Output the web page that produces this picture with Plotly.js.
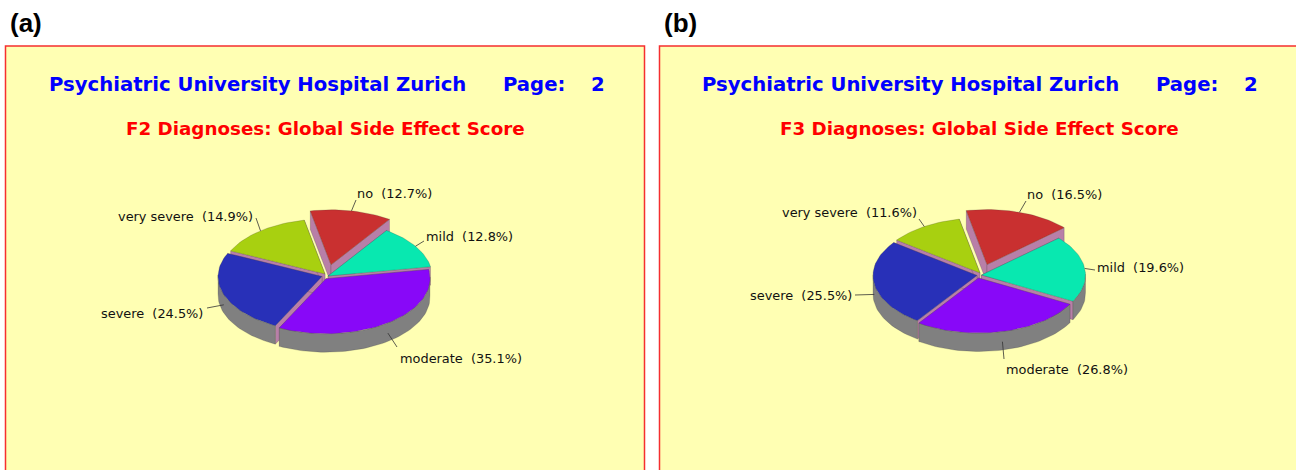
<!DOCTYPE html>
<html><head><meta charset="utf-8">
<script src="https://cdn.plot.ly/plotly-3.0.1.min.js"></script>
<style>html,body{margin:0;padding:0;background:#fff}#chart{width:1296px;height:470px}</style>
</head><body><div id="chart"></div>
<script>
const categories = ['no','mild','moderate','severe','very severe'];
const percentA = [12.7,12.8,35.1,24.5,14.9];
const percentB = [16.5,19.6,26.8,25.5,11.6];
const sliceColors = ['#C93030','#08E8B0','#8808F8','#2830B8','#A8D010'];
const paintOrder = [4,0,1,3,2];
const headerA = 'F2 Diagnoses: Global Side Effect Score';
const headerB = 'F3 Diagnoses: Global Side Effect Score';
const hospital = 'Psychiatric University Hospital Zurich';
const pageLabel = 'Page:';
const pageNumber = '2';

// per-slice tip of each wedge (the exploded layout of the source chart)
const tipsA = [[331,264.8],[328,276],[326,278.7],[322,276.5],[325,274]];
const tipsB = [[987,264.5],[981.5,275],[978.5,278],[977,275.5],[980,273]];
// label placement: x, y, anchor, leader end
const labelsA = [[356,193,'left',[356,200]],[425,236,'left',[424,241]],[398.5,358,'left',[397,347]],[204,313,'right',[207,308]],[254,216,'right',[256,218]]];
const labelsB = [[1026,194,'left',[1026,201]],[1096,267,'left',[1095,270]],[1004.5,369,'left',[1004,359]],[853,295,'right',[855,295]],[918,212,'right',[919,219]]];

const RX = 104, RY = 55, DEPTH = 18.5, START = 101.5;
const CUT = '#B87FA8', RIM = '#808080', EDGE = 'rgba(50,50,50,0.4)';
const traces = [];

function poly(xs, ys, fill){
  traces.push({type:'scatter',mode:'lines',x:xs,y:ys,fill:'toself',fillcolor:fill,
    line:{color:EDGE,width:0.5},hoverinfo:'skip',showlegend:false});
}
function drawPie(values, tips, labels){
  const total = values.reduce((s,v)=>s+v,0);
  const spans = []; let a = START;
  values.forEach(v=>{const e=a-v/total*360; spans.push([a,e]); a=e;});
  paintOrder.forEach(i=>{
    const [a0,a1]=spans[i], [tx,ty]=tips[i];
    const ax=[], ay=[], rx=[], ry=[];
    const n=Math.max(8,Math.ceil(Math.abs(a0-a1)/2));
    for(let k=0;k<=n;k++){
      const t=(a0+(a1-a0)*k/n)*Math.PI/180;
      const px=tx+RX*Math.cos(t), py=ty-RY*Math.sin(t);
      ax.push(px); ay.push(py);
      if(Math.sin(t)<0.04){rx.push(px); ry.push(py);}
    }
    // radial cut faces
    const last=ax.length-1;
    poly([tx,ax[0],ax[0],tx,tx],[ty,ay[0],ay[0]+DEPTH,ty+DEPTH,ty],CUT);
    poly([tx,ax[last],ax[last],tx,tx],[ty,ay[last],ay[last]+DEPTH,ty+DEPTH,ty],CUT);
    // outer rim, front-facing part only
    if(rx.length>1){
      poly(rx.concat(rx.slice().reverse(),[rx[0]]),
           ry.concat(ry.slice().reverse().map(y=>y+DEPTH),[ry[0]]),RIM);
    }
    // top face
    poly([tx].concat(ax,[tx]),[ty].concat(ay,[ty]),sliceColors[i]);
    // leader
    const mid=(a0+a1)/2*Math.PI/180, s=Math.sin(mid);
    const lx=tx+RX*Math.cos(mid), ly=ty-RY*s+(s<0?DEPTH*0.55:0);
    const L=labels[i];
    traces.push({type:'scatter',mode:'lines',x:[lx,L[3][0]],y:[ly,L[3][1]],
      line:{color:'#333',width:0.8},hoverinfo:'skip',showlegend:false});
  });
}
drawPie(percentA,tipsA,labelsA);
drawPie(percentB,tipsB,labelsB);

const annotations=[];
function txt(x,y,text,size,color,anchor,weight,family){
  annotations.push({x,y,xref:'x',yref:'y',text,showarrow:false,xanchor:anchor,yanchor:'middle',
    xshift:0,yshift:0,borderpad:0,
    font:{size,color,family:family||'"DejaVu Sans",Verdana,sans-serif',weight:weight||400}});
}
function labelSet(values,labels){
  categories.forEach((c,i)=>{
    const L=labels[i];
    txt(L[0],L[1],c+'\u00a0\u00a0('+values[i].toFixed(1)+'%)',12.9,'#111',L[2]);
  });
}
labelSet(percentA,labelsA); labelSet(percentB,labelsB);
[[0,headerA,'(a)',9],[653.5,headerB,'(b)',663]].forEach(([dx,head,tag,tx])=>{
  txt(47.5+dx,84,hospital,19.65,'#0000FF','left',700);
  txt(501.5+dx,84,pageLabel,19.65,'#0000FF','left',700);
  txt(605.5+dx,84,pageNumber,19.65,'#0000FF','right',700);
  txt(325.5+dx,128,head,18.3,'#FF0000','center',700);
  txt(tx,23,tag,26,'#000','left',700,'"Liberation Sans",Arial,sans-serif');
});

const panel=(x0,x1)=>({type:'rect',xref:'x',yref:'y',x0,x1,y0:46,y1:480,layer:'below',
  fillcolor:'#FFFFB3',line:{color:'#F52F2F',width:1.5}});
const layout={width:1296,height:470,margin:{l:0,r:0,t:0,b:0},paper_bgcolor:'#fff',plot_bgcolor:'#fff',
  xaxis:{range:[0,1296],visible:false,fixedrange:true},
  yaxis:{range:[470,0],visible:false,fixedrange:true},
  shapes:[panel(5.5,644.5),panel(659.5,1298)],annotations,showlegend:false};
Plotly.newPlot('chart',traces,layout,{displayModeBar:false,staticPlot:true});
</script></body></html>
